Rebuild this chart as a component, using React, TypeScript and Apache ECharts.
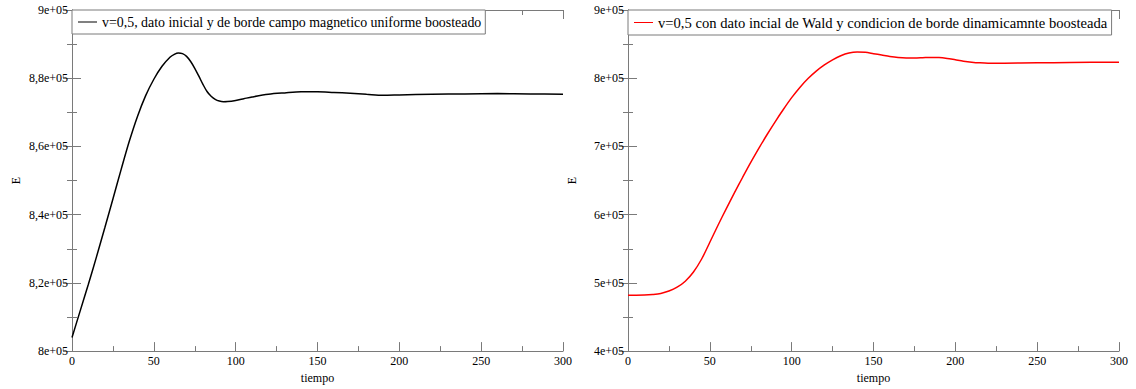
import React, { useEffect, useRef } from "react";
import * as echarts from "echarts";

const leftName = "v=0,5, dato inicial y de borde campo magnetico uniforme boosteado";
const rightName = "v=0,5 con dato incial de Wald y condicion de borde dinamicamnte boosteada";

const leftT = [0, 5, 10, 15, 20, 25, 30, 35, 40, 45, 50, 55, 60, 62.5, 65, 67.5, 70, 72.5, 75, 77.5, 80, 82.5, 85, 87.5, 90, 92.5, 95, 100, 105, 110, 120, 130, 140, 150, 160, 170, 180, 190, 200, 220, 240, 260, 280, 300];
const leftE = [804000, 811800, 819600, 827700, 836100, 844600, 853200, 861500, 868800, 874900, 879700, 883500, 886200, 887000, 887400, 887200, 886400, 884900, 882900, 880600, 878200, 876100, 874700, 873800, 873300, 873100, 873150, 873500, 874000, 874500, 875300, 875700, 876000, 876000, 875800, 875600, 875300, 875000, 875100, 875300, 875400, 875500, 875400, 875300];

const rightT = [0, 5, 10, 15, 20, 25, 30, 35, 40, 45, 50, 55, 60, 65, 70, 75, 80, 85, 90, 95, 100, 105, 110, 115, 120, 125, 130, 135, 140, 145, 150, 155, 160, 165, 170, 175, 180, 185, 190, 195, 200, 205, 210, 215, 220, 230, 250, 270, 300];
const rightE = [482000, 482000, 482200, 483000, 484500, 488000, 493700, 502500, 516000, 535000, 559500, 584500, 608500, 632000, 654500, 676500, 697500, 717500, 736500, 754500, 771500, 786500, 799500, 810500, 819500, 827000, 833000, 837000, 838500, 838000, 836000, 834000, 832000, 830500, 829700, 829600, 830000, 830500, 830300, 829000, 827000, 825000, 823500, 822500, 822000, 822000, 822500, 823000, 823500];

const FONT = "Liberation Serif";
const AXIS_GRAY = "#7a7a7a";

function fmt(v: number): string {
  const m = Math.round(v / 1e4) / 10;
  const s = Number.isInteger(m) ? String(m) : m.toFixed(1).replace(".", ",");
  return s + "e+05";
}

function xAxes(grid: number) {
  const base = {
    gridIndex: grid,
    type: "value",
    min: 0,
    max: 300,
    interval: 50,
    axisLine: { show: true, lineStyle: { color: AXIS_GRAY, width: 1 } },
    axisTick: { show: true, inside: true, length: 9, lineStyle: { color: AXIS_GRAY } },
    minorTick: { show: true, splitNumber: 2, length: 5, lineStyle: { color: AXIS_GRAY } },
    splitLine: { show: false },
  };
  return [
    {
      ...base,
      position: "bottom",
      axisLabel: { show: true, color: "#000", fontFamily: FONT, fontSize: 12, margin: 4 },
      name: "tiempo",
      nameLocation: "middle",
      nameGap: 19,
      nameTextStyle: { color: "#000", fontFamily: FONT, fontSize: 12 },
    },
    { ...base, position: "top", axisLabel: { show: false } },
  ];
}

function yAxes(grid: number, min: number, max: number, interval: number) {
  const base = {
    gridIndex: grid,
    type: "value",
    min,
    max,
    interval,
    axisLine: { show: true, lineStyle: { color: AXIS_GRAY, width: 1 } },
    axisTick: { show: true, inside: true, length: 9, lineStyle: { color: AXIS_GRAY } },
    minorTick: { show: true, splitNumber: 2, length: 5, lineStyle: { color: AXIS_GRAY } },
    splitLine: { show: false },
  };
  return [
    {
      ...base,
      position: "left",
      axisLabel: { show: true, color: "#000", fontFamily: FONT, fontSize: 12, margin: 4, formatter: fmt },
      name: "E",
      nameLocation: "middle",
      nameGap: 50,
      nameRotate: 90,
      nameTextStyle: { color: "#000", fontFamily: FONT, fontSize: 12 },
    },
    { ...base, position: "right", axisLabel: { show: false } },
  ];
}

function legendFor(name: string, left: number, size: number) {
  return {
    data: [{ name, icon: "rect" }],
    left,
    top: 10,
    orient: "horizontal",
    padding: [5, 4, 5, 6],
    itemWidth: 19,
    itemHeight: 1,
    backgroundColor: "#fff",
    borderColor: AXIS_GRAY,
    borderWidth: 1,
    borderRadius: 0,
    selectedMode: false,
    textStyle: { color: "#000", fontFamily: FONT, fontSize: size, lineHeight: 12 },
  };
}

export default function App() {
  const ref = useRef<HTMLDivElement>(null);
  useEffect(() => {
    if (!ref.current) return;
    const chart = echarts.init(ref.current, null, { renderer: "svg" });
    chart.setOption({
      animation: false,
      backgroundColor: "#fff",
      textStyle: { fontFamily: FONT },
      grid: [
        { left: 72, top: 10, width: 491, height: 343 },
        { left: 628, top: 10, width: 491, height: 343 },
      ],
      xAxis: [...xAxes(0), ...xAxes(1)],
      yAxis: [...yAxes(0, 800000, 900000, 20000), ...yAxes(1, 400000, 900000, 100000)],
      legend: [legendFor(leftName, 72, 13.9), legendFor(rightName, 628, 14.6)],
      series: [
        {
          name: leftName,
          type: "line",
          xAxisIndex: 0,
          yAxisIndex: 0,
          smooth: 0.3,
          symbol: "none",
          lineStyle: { color: "#000", width: 1.5 },
          itemStyle: { color: "#000" },
          data: leftT.map((t, i) => [t, leftE[i]]),
        },
        {
          name: rightName,
          type: "line",
          xAxisIndex: 2,
          yAxisIndex: 2,
          smooth: 0.3,
          symbol: "none",
          lineStyle: { color: "#ff0000", width: 1.5 },
          itemStyle: { color: "#ff0000" },
          data: rightT.map((t, i) => [t, rightE[i]]),
        },
      ],
    });
    return () => chart.dispose();
  }, []);
  return (
    <div
      ref={ref}
      style={{ position: "fixed", left: 0, top: 0, width: 1136, height: 389, background: "#fff" }}
    />
  );
}
